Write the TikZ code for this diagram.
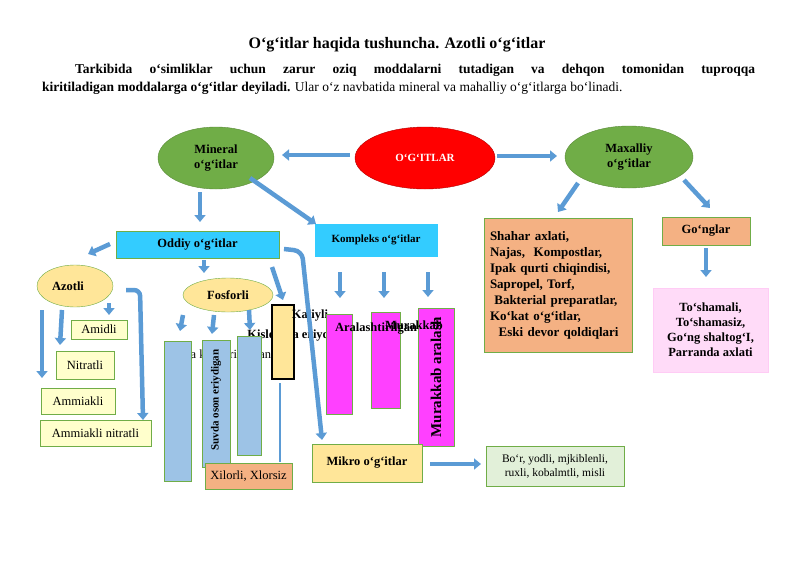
\documentclass[tikz,border=0pt]{standalone}
\usepackage{fontspec}
\setmainfont{Liberation Serif}
\usetikzlibrary{arrows.meta,shapes.geometric}
\definecolor{grn}{HTML}{70AD47}
\definecolor{blu}{HTML}{5B9BD5}
\definecolor{cyn}{HTML}{33CCFF}
\definecolor{gold}{HTML}{FFE699}
\definecolor{lyel}{HTML}{FFFFCC}
\definecolor{salm}{HTML}{F4B183}
\definecolor{pnk}{HTML}{FFCCF5}
\definecolor{mag}{HTML}{FF40FF}
\definecolor{sky}{HTML}{9DC3E6}
\definecolor{lgrn}{HTML}{E2F0D9}
\tikzset{
  fs/.style={font=\fontsize{12.5}{15}\selectfont\bfseries},
  ns/.style={font=\fontsize{12.5}{15}\selectfont},
  ell/.style={ellipse, draw=grn!80!black, fill=grn, fs, align=center, inner sep=0pt},
  box/.style={draw=grn, line width=0.8pt, fs, align=center, inner sep=0pt},
  bar/.style={draw=grn, line width=0.8pt},
  blk/.style={draw=blu, line width=4.5pt, -{Triangle[width=11pt,length=7pt]}},
  thin/.style={draw=blu, line width=2.5pt},
}
\begin{document}
\begin{tikzpicture}[x=1pt,y=-1pt]
\useasboundingbox (0,0) rectangle (800,565);
% title and text
\node[font=\fontsize{16}{18}\selectfont\bfseries] (title) at (397,45) {O‘g‘itlar haqida tushuncha. Azotli o‘g‘itlar};
\node[anchor=north west, text width=713pt, inner sep=0pt, font=\fontsize{13.5}{18}\selectfont, align=justify] (para) at (42,64)
  {\hspace*{33pt}\textbf{Tarkibida o‘simliklar uchun zarur oziq moddalarni tutadigan va dehqon tomonidan tuproqqa\linebreak kiritiladigan moddalarga o‘g‘itlar deyiladi.} Ular o‘z navbatida mineral va mahalliy o‘g‘itlarga bo‘linadi.};
% top level
\node[ell, minimum width=116pt, minimum height=62pt] (mineral) at (216,158) {Mineral\\o‘g‘itlar};
\node[ellipse, draw=red!70!black, fill=red, text=white, font=\fontsize{11}{13}\selectfont\bfseries, minimum width=140pt, minimum height=62pt] (ogitlar) at (425,158) {O‘G‘ITLAR};
\node[ell, minimum width=128pt, minimum height=62pt] (maxalliy) at (629,157) {Maxalliy\\o‘g‘itlar};
\draw[blk] (350,155) -- (282,155);
\draw[blk] (497,156) -- (557,156);
% second level
\node[box, fill=cyn, minimum width=163pt, minimum height=27pt] (oddiy) at (197.5,244.5) {Oddiy o‘g‘itlar};
\node[box, draw=cyn, fill=cyn, minimum width=122pt, minimum height=32pt, font=\fontsize{11}{13}\selectfont\bfseries] (kompleks) at (376,240) {Kompleks o‘g‘itlar};
\node[box, fill=salm, minimum width=148pt, minimum height=134pt, text width=136pt, align=left, font=\fontsize{13}{16}\selectfont\bfseries] (shahar) at (558,285)
  {Shahar axlati,\\Najas,\ \ Kompostlar,\\Ipak qurti chiqindisi,\\Sapropel, Torf,\\\ Bakterial preparatlar,\\Ko‘kat o‘g‘itlar,\\\ \ Eski devor qoldiqlari};
\node[box, fill=salm, minimum width=88pt, minimum height=28pt] (gonglar) at (706,231) {Go‘nglar};
\node[box, draw=pnk, fill=pnk!70, minimum width=115pt, minimum height=84pt] (toshamali) at (710.5,330) {To‘shamali,\\To‘shamasiz,\\Go‘ng shaltog‘I,\\Parranda axlati};
\draw[blk] (200,192) -- (200,222);
\draw[blk] (250,178) -- (316,224);
\draw[blk] (578,183) -- (558,212);
\draw[blk] (684,180) -- (710,208);
\draw[blk] (706,248) -- (706,277);
% azotli branch
\node[ellipse, draw=grn, fill=gold, fs, minimum width=76pt, minimum height=42pt, inner sep=0pt] (azotli) at (75,286) {\hspace*{-14pt}Azotli};
\node[box, fill=lyel, ns, minimum width=56pt, minimum height=19pt] (amidli) at (99,329.5) {Amidli};
\node[box, fill=lyel, ns, minimum width=58pt, minimum height=28pt] (nitratli) at (85,365) {Nitratli};
\node[box, fill=lyel, ns, minimum width=74pt, minimum height=26pt] (ammiakli) at (78,401) {Ammiakli};
\node[box, fill=lyel, ns, minimum width=111pt, minimum height=26pt] (amnitr) at (95.5,433) {Ammiakli nitratli};
\draw[blk] (110,244) -- (88,254);
\draw[blk] (42,310) -- (42,378);
\draw[blk] (62,310) -- (60,345);
\draw[blk] (109,303) -- (109,315);
\draw[blk, rounded corners=6pt] (126,290) -- (140,290) -- (143,420);
% fosforli branch
\node[ellipse, draw=grn, fill=gold, fs, minimum width=90pt, minimum height=34pt, inner sep=0pt] (fosforli) at (228,295) {Fosforli};
\draw[blk] (204,260) -- (204,273);
\draw[blk] (272,267) -- (283,300);
\draw[blk] (183,315) -- (180,331);
\draw[blk] (214,315) -- (212,334);
\draw[blk] (249,310) -- (250,330);
\node[ns] (kam) at (218,356) {Suvda kam eriydigan};
\node[fs] (kislota) at (300,336) {Kislotada eriydigan};
\draw[bar, fill=sky] (164,341) rectangle (191,481);
\draw[bar, fill=sky] (202,340) rectangle (230,467);
\node[fs, font=\fontsize{11}{13}\selectfont\bfseries, rotate=90] (oson) at (216,400) {Suvda oson eriydigan};
\draw[bar, fill=sky] (237,336) rectangle (261,455);
\draw[draw=black, line width=1.2pt, fill=gold] (272,305) rectangle (294,379);
\node[fs] (kaliyli) at (310,316) {Kaliyli};
\draw[thin] (280,383) -- (280,462);
\node[box, fill=salm, ns, minimum width=87pt, minimum height=26pt] (xilorli) at (248.5,476) {Xilorli, Xlorsiz};
% kompleks branch
\draw[blk] (340,272) -- (340,298);
\draw[blk] (384,272) -- (384,298);
\draw[blk] (428,272) -- (428,297);
\draw[bar, fill=mag] (326,314) rectangle (352,414);
\draw[bar, fill=mag] (371,312) rectangle (400,408);
\draw[bar, fill=mag] (418,308) rectangle (454,446);
\node[rotate=90, font=\fontsize{15}{17}\selectfont\bfseries] (murar) at (436,377) {Murakkab aralash};
\node[fs] (aralash) at (376,329) {Aralashtirilgan};
\node[fs] (murakkab) at (414,325) {Murakkab};
% mikro
\node[box, fill=gold, minimum width=110pt, minimum height=38pt] (mikro) at (367,463) {Mikro o‘g‘itlar};
\node[box, fill=lgrn, font=\fontsize{11.5}{14}\selectfont, minimum width=138pt, minimum height=40pt] (bor) at (555,466) {Bo‘r, yodli, mjkiblenli,\\ruxli, kobalmtli, misli};
\draw[blk, rounded corners=8pt] (284,249) -- (302,251) -- (322,440);
\draw[blk] (430,464) -- (481,464);
\end{tikzpicture}
\end{document}
